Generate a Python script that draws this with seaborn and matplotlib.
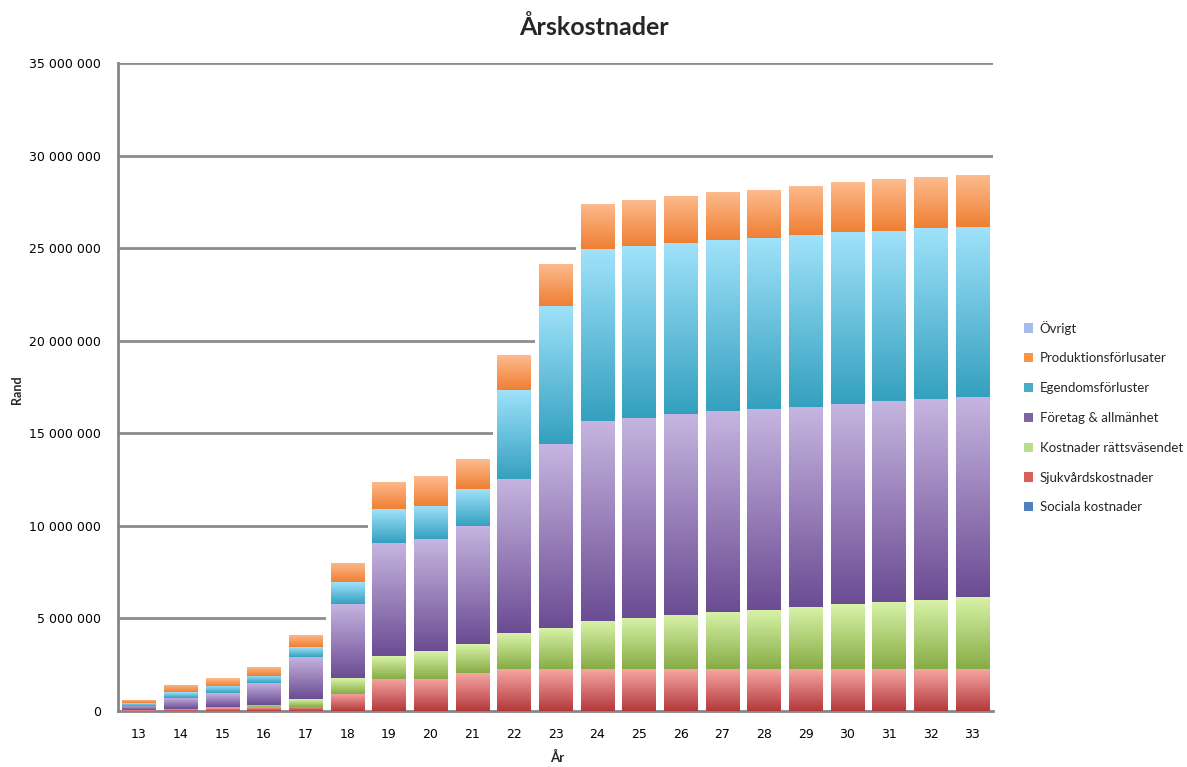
import numpy as np
import pandas as pd
import matplotlib
matplotlib.use("Agg")
import matplotlib.pyplot as plt
import seaborn as sns
from matplotlib.colors import LinearSegmentedColormap
from matplotlib.patches import Patch
from matplotlib.ticker import FuncFormatter

# Data (values in millions of Rand), stacked bottom -> top
years = ['13', '14', '15', '16', '17', '18', '19', '20', '21', '22', '23',
         '24', '25', '26', '27', '28', '29', '30', '31', '32', '33']

sociala = [0, 0, 0, 0, 0, 0, 0, 0, 0, 0, 0, 0, 0, 0, 0, 0, 0, 0, 0, 0, 0]
sjukvard = [0.04, 0.09, 0.16, 0.20, 0.23, 0.93, 1.75, 1.75, 2.04, 2.25, 2.25,
            2.25, 2.25, 2.25, 2.25, 2.25, 2.25, 2.25, 2.25, 2.25, 2.25]
rattsvasendet = [0.00, 0.00, 0.06, 0.12, 0.40, 0.83, 1.24, 1.49, 1.56, 1.94, 2.25,
                 2.63, 2.76, 2.94, 3.08, 3.22, 3.37, 3.51, 3.62, 3.76, 3.89]
foretag = [0.23, 0.60, 0.74, 1.19, 2.30, 4.04, 6.08, 6.03, 6.41, 8.34, 9.90,
           10.80, 10.82, 10.85, 10.86, 10.83, 10.80, 10.81, 10.86, 10.84, 10.82]
egendom = [0.15, 0.32, 0.41, 0.38, 0.51, 1.17, 1.82, 1.82, 1.98, 4.81, 7.49,
           9.27, 9.27, 9.24, 9.23, 9.27, 9.27, 9.29, 9.21, 9.24, 9.20]
produktion = [0.17, 0.39, 0.43, 0.50, 0.66, 1.04, 1.46, 1.60, 1.62, 1.89, 2.27,
              2.45, 2.52, 2.55, 2.59, 2.57, 2.67, 2.71, 2.78, 2.74, 2.79]
ovrigt = [0, 0, 0, 0, 0, 0, 0, 0, 0, 0, 0, 0, 0, 0, 0, 0, 0, 0, 0, 0, 0]

series = {
    'Sociala kostnader': sociala,
    'Sjukvårdskostnader': sjukvard,
    'Kostnader rättsväsendet': rattsvasendet,
    'Företag & allmänhet': foretag,
    'Egendomsförluster': egendom,
    'Produktionsförlusater': produktion,
    'Övrigt': ovrigt,
}

# (top colour, bottom colour) for the gradient, plus legend swatch colour
gradients = {
    'Sociala kostnader': ('#A7C0E6', '#3E6BAE', '#4F81BD'),
    'Sjukvårdskostnader': ('#F6A6A4', '#B3393A', '#D9605C'),
    'Kostnader rättsväsendet': ('#D9F3A9', '#86AC45', '#BCDC8C'),
    'Företag & allmänhet': ('#C6B5E0', '#6B4C93', '#8064A2'),
    'Egendomsförluster': ('#A0E2FA', '#34A0BF', '#4BACC6'),
    'Produktionsförlusater': ('#FDBB8E', '#EF7F33', '#F79646'),
    'Övrigt': ('#C5D5F0', '#8FAADC', '#A5BDE8'),
}

sns.set_style('white')
plt.rcParams['font.family'] = ['DejaVu Sans']

fig = plt.figure(figsize=(11.87, 7.67), dpi=100)
ax = fig.add_axes([118 / 1187, 1 - 711 / 767, 875 / 1187, 648 / 767])

scale = 1e6
totals = np.sum([np.array(v) for v in series.values()], axis=0) * scale

# white backing behind each stack hides the grid in the gaps
sns.barplot(x=years, y=totals, order=years, color='white', width=1.0,
            linewidth=0, errorbar=None, ax=ax, zorder=2)

bottom = np.zeros(len(years))
for name, vals in series.items():
    vals = np.array(vals) * scale
    top_c, bot_c, _ = gradients[name]
    sns.barplot(x=years, y=vals, order=years, color=top_c, width=0.8,
                bottom=bottom, linewidth=0, errorbar=None, ax=ax, zorder=3)
    cmap = LinearSegmentedColormap.from_list(name, [bot_c, top_c])
    for p in ax.containers[-1]:
        h = p.get_height()
        if h <= 0:
            continue
        x0, w, y0 = p.get_x(), p.get_width(), p.get_y()
        im = ax.imshow(np.linspace(0, 1, 256).reshape(-1, 1), cmap=cmap,
                       extent=[x0, x0 + w, y0, y0 + h], origin='lower',
                       aspect='auto', zorder=3.1, interpolation='bilinear')
        im.set_clip_path(p)
    bottom = bottom + vals

ax.set_xlim(-0.5, len(years) - 0.5)
ax.set_ylim(0, 35e6)
ax.set_aspect('auto')

# grid and axes styling
ax.set_yticks(np.arange(0, 35e6 + 1, 5e6))
ax.yaxis.set_major_formatter(FuncFormatter(lambda v, p: f"{int(v):,}".replace(",", " ")))
ax.yaxis.grid(True, color='#8c8c8c', linewidth=2, zorder=1)
ax.xaxis.grid(False)
ax.set_axisbelow(True)
for s in ['top', 'right']:
    ax.spines[s].set_visible(False)
for s in ['left', 'bottom']:
    ax.spines[s].set_color('#868686')
    ax.spines[s].set_linewidth(2)

ax.set_xticks(np.arange(-0.5, len(years), 1), minor=True)
ax.tick_params(axis='x', which='major', length=0, pad=12, labelsize=9, colors='black')
ax.tick_params(axis='x', which='minor', length=4, width=1.5, color='#868686', direction='out')
ax.tick_params(axis='y', which='major', length=4, width=1.5, color='#868686',
               direction='out', pad=8, labelsize=9, labelcolor='black')
ax.set_xlabel('')
ax.set_ylabel('')

fig.text(0.5, 1 - 27 / 767, 'Årskostnader', ha='center', va='center',
         fontsize=18, fontweight='bold', family=['Lato', 'DejaVu Sans'])
fig.text(17 / 1187, 1 - 390 / 767, 'Rand', rotation=90, ha='center', va='center',
         fontsize=9, fontweight='bold', family=['Lato', 'DejaVu Sans'])
fig.text(557 / 1187, 1 - 757 / 767, 'År', ha='center', va='center',
         fontsize=9.5, fontweight='bold', family=['Lato', 'DejaVu Sans'])

handles = [Patch(facecolor=gradients[n][2], edgecolor='none', label=n)
           for n in reversed(list(series.keys()))]
fig.legend(handles=handles, loc='center left', bbox_to_anchor=(1012 / 1187, 1 - 417 / 767),
           frameon=False, handlelength=0.7, handleheight=0.7, handletextpad=0.5,
           labelspacing=1.35, prop={'family': ['Lato', 'DejaVu Sans'], 'size': 9.5})

fig.savefig('out.png', dpi=100, facecolor='white')
